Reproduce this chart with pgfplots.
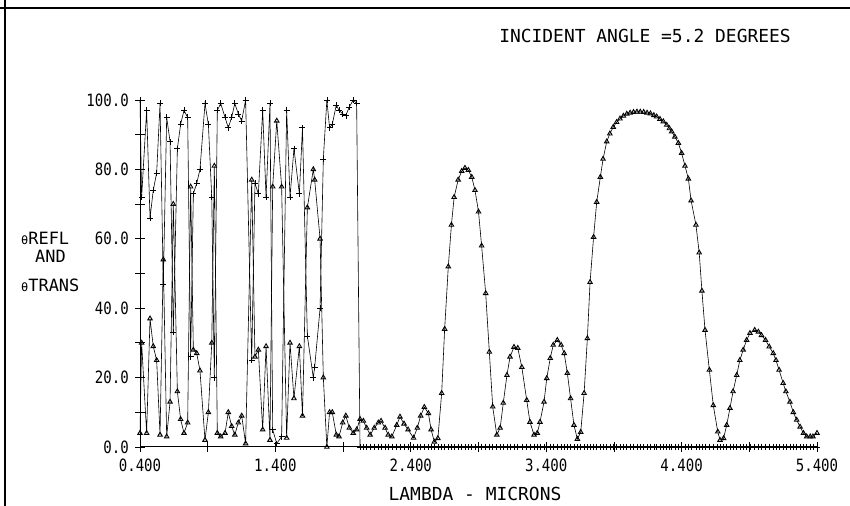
\documentclass[border=0pt]{standalone}
\usepackage{fontspec}
\setmainfont{DejaVu Sans Mono}
\newfontfamily\tickfont[FakeStretch=0.83]{DejaVu Sans Mono}
\usepackage{pgfplots}
\pgfplotsset{compat=1.18}
\usepackage{pgfplotstable}

\pgfplotstableread{
x R T
0.400 4 100
0.412 30 72
0.449 4 97
0.474 37 66
0.498 29 74
0.523 25 79
0.548 3.5 99
0.572 54 47
0.597 3 95
0.622 13 88
0.646 70 33
0.676 16 86
0.700 8 93
0.725 4 97
0.752 7 95
0.774 75 26
0.794 28 73
0.819 27 76
0.843 22 80
0.880 2 99
0.905 10 93
0.930 30 72
0.949 81 20
0.971 4 97
0.996 3 99
1.028 4 95
1.052 10 92
1.077 6 95
1.100 3.5 99
1.126 7 96
1.151 9 94
1.180 1 100
1.225 77 25
1.249 26 76
1.274 28 73
1.306 5 97
1.331 29 72
1.360 2 99
1.380 75 5
1.410 94 1
1.446 75 3
1.483 2.6 97
1.508 30 72
1.537 14 86
1.577 29 73
1.600 9 92
1.636 69 32
1.680 80 20
1.690 77 23
1.730 60 40
1.754 20 83
1.780 0 100
1.800 10 92
1.820 10 93
1.850 3.5 98.6
1.870 3 97
1.897 7 96
1.920 9 95.5
1.946 5.5 98
1.975 4 100
2.000 5 99
2.025 8 0
2.050 7.5 0
2.074 5.5 0
2.100 3.5 0
2.130 5.5 0
2.160 7 0
2.180 7.5 0
2.210 5.5 0
2.233 3.5 0
2.260 3 0
2.296 6.3 0
2.320 8.7 0
2.350 6.7 0
2.380 5 0
2.420 2.6 0
2.448 5.5 0
2.473 9 0
2.500 11.5 0
2.530 9.7 0
2.550 5 0
2.574 1.5 0
2.600 2.5 0
2.628 15.5 0
2.650 34 0
2.677 52 0
2.700 64 0
2.720 72 0
2.750 77 0
2.776 79.5 0
2.800 80.4 0
2.825 79.8 0
2.850 77.8 0
2.874 74 0
2.900 67.8 0
2.923 58 0
2.953 44.3 0
2.980 27.4 0
3.005 11.6 0
3.035 3.5 0
3.060 5.5 0
3.083 12.7 0
3.110 20.7 0
3.133 26 0
3.162 28.8 0
3.190 28.5 0
3.220 23 0
3.256 13.5 0
3.280 7.2 0
3.310 3.5 0
3.334 4 0
3.354 7.2 0
3.384 13 0
3.404 19.8 0
3.430 25.6 0
3.452 29.4 0
3.482 30.8 0
3.510 29.4 0
3.533 27 0
3.556 21.3 0
3.580 14 0
3.605 6.3 0
3.630 2.3 0
3.655 4.3 0
3.680 15.5 0
3.704 31.3 0
3.724 47.5 0
3.750 60.5 0
3.773 70.6 0
3.800 77.8 0
3.820 83 0
3.847 88 0
3.870 90.3 0
3.895 92.2 0
3.920 93.6 0
3.945 94.6 0
3.970 95.4 0
3.995 96 0
4.020 96.3 0
4.045 96.5 0
4.070 96.6 0
4.095 96.6 0
4.120 96.5 0
4.145 96.3 0
4.170 96.1 0
4.195 95.6 0
4.216 95.2 0
4.240 94.5 0
4.265 93.8 0
4.290 92.8 0
4.310 91.8 0
4.327 90.9 0
4.350 89.4 0
4.376 87.6 0
4.400 84.7 0
4.425 81 0
4.450 77.3 0
4.470 71 0
4.506 64 0
4.530 56 0
4.550 45 0
4.573 33.7 0
4.605 22.2 0
4.634 12 0
4.667 4.4 0
4.684 2 0
4.710 2.5 0
4.733 6.3 0
4.757 11.2 0
4.780 16 0
4.807 20.7 0
4.830 25 0
4.855 28 0
4.880 30.8 0
4.905 32.8 0
4.940 33.7 0
4.967 33.2 0
4.990 32.2 0
5.020 30.8 0
5.047 28.9 0
5.077 27 0
5.097 25 0
5.120 22.2 0
5.150 18.4 0
5.170 16 0
5.200 13 0
5.225 10 0
5.250 7.8 0
5.275 5.8 0
5.300 4 0
5.324 3 0
5.350 3 0
5.370 3 0
5.400 4 0
}\data

\begin{document}
\begin{tikzpicture}
\path[use as bounding box] (0bp,0bp) rectangle (850bp,506bp);
\draw[line width=2.5bp] (0bp,498bp) -- (850bp,498bp);
\draw[line width=2.5bp] (5bp,506bp) -- (5bp,0bp);
\begin{axis}[
  at={(140bp,59bp)}, anchor=south west,
  scale only axis, width=677bp, height=347bp,
  xmin=0.4, xmax=5.4, ymin=0, ymax=100,
  axis lines*=left,
  axis line style={line width=1bp},
  clip=false,
  xtick={0.4,1.4,2.4,3.4,4.4,5.4},
  xticklabels={0.400,1.400,2.400,3.400,4.400,5.400},
  minor xtick={0.9,1.9,2.9,3.9,4.9},
  ytick={0,20,40,60,80,100},
  yticklabels={0.0,20.0,40.0,60.0,80.0,100.0},
  minor ytick={10,30,50,70,90},
  tick align=center,
  major tick length=10bp, minor tick length=10bp,
  every tick/.style={black, line width=0.8bp},
  xticklabel style={font=\tickfont\fontsize{17}{17}\selectfont, anchor=base, yshift=-19bp},
  yticklabel style={font=\tickfont\fontsize{17}{17}\selectfont, anchor=east, inner sep=0pt, xshift=-6bp},
]
\addplot[black, line width=0.6bp, mark=+, mark size=3bp, mark options={line width=0.6bp}] table[x=x,y=T] {\data};
\addplot[black, line width=0.6bp, mark=triangle, mark size=2.6bp, mark options={line width=0.9bp}] table[x=x,y=R] {\data};
\end{axis}
\node[font=\fontsize{18}{18}\selectfont, anchor=base] at (645bp,463bp) {INCIDENT ANGLE =5.2 DEGREES};
\node[font=\fontsize{17}{17}\selectfont, anchor=base west, inner sep=0pt] at (21bp,261bp) {{\fontsize{12}{12}\selectfont θ}REFL};
\node[font=\fontsize{17}{17}\selectfont, anchor=base west, inner sep=0pt] at (35bp,243bp) {AND};
\node[font=\fontsize{17}{17}\selectfont, anchor=base west, inner sep=0pt] at (21bp,214bp) {{\fontsize{12}{12}\selectfont θ}TRANS};
\node[font=\fontsize{18}{18}\selectfont, anchor=base] at (475bp,6bp) {LAMBDA - MICRONS};
\end{tikzpicture}
\end{document}
